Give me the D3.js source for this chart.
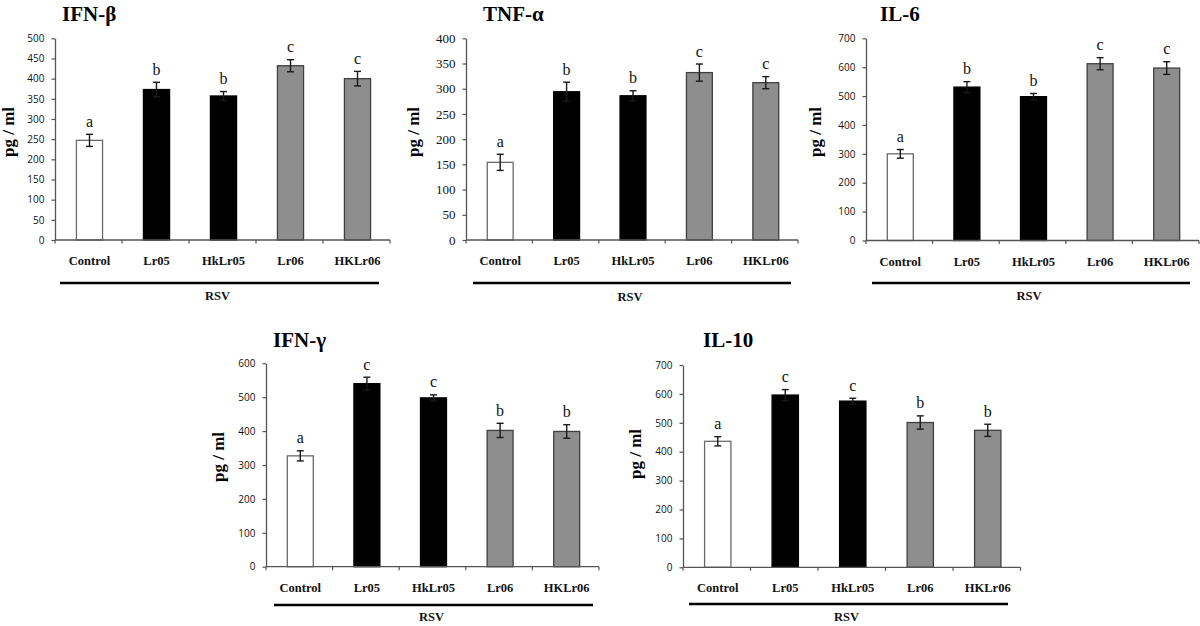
<!DOCTYPE html>
<html>
<head>
<meta charset="utf-8">
<script src="https://cdn.jsdelivr.net/npm/d3@7"></script>
<style>
  html, body { margin: 0; padding: 0; background: #fff; }
  svg { display: block; }
</style>
</head>
<body>
<script>
// ---------------- DATA ----------------
const categories = ["Control", "Lr05", "HkLr05", "Lr06", "HKLr06"];
const groupLabel = "RSV";
const yAxisLabel = "pg / ml";

const ifnbTitle = "IFN-β";
const ifnbValues = [247, 373, 357, 432, 400];
const ifnbErrors = [15, 18, 11, 15, 18];
const ifnbLetters = ["a", "b", "b", "c", "c"];
const ifnbTicks = [0, 50, 100, 150, 200, 250, 300, 350, 400, 450, 500];

const tnfTitle = "TNF-α";
const tnfValues = [154, 294, 286, 332, 312];
const tnfErrors = [16, 19, 10, 17, 12];
const tnfLetters = ["a", "b", "b", "c", "c"];
const tnfTicks = [0, 50, 100, 150, 200, 250, 300, 350, 400];

const il6Title = "IL-6";
const il6Values = [300, 531, 498, 612, 597];
const il6Errors = [15, 19, 11, 21, 22];
const il6Letters = ["a", "b", "b", "c", "c"];
const il6Ticks = [0, 100, 200, 300, 400, 500, 600, 700];

const ifngTitle = "IFN-γ";
const ifngValues = [327, 540, 498, 402, 399];
const ifngErrors = [15, 19, 9, 21, 20];
const ifngLetters = ["a", "c", "c", "b", "b"];
const ifngTicks = [0, 100, 200, 300, 400, 500, 600];

const il10Title = "IL-10";
const il10Values = [436, 596, 575, 501, 474];
const il10Errors = [16, 19, 10, 23, 21];
const il10Letters = ["a", "c", "c", "b", "b"];
const il10Ticks = [0, 100, 200, 300, 400, 500, 600, 700];

// ---------------- STYLE ----------------
const barFill = { "Control": "#ffffff", "Lr05": "#000000", "HkLr05": "#000000", "Lr06": "#8e8e8e", "HKLr06": "#8e8e8e" };
const barStroke = { "Control": "#6a6a6a", "Lr05": "#000000", "HkLr05": "#000000", "Lr06": "#404040", "HKLr06": "#404040" };
const SERIF = "'Liberation Serif', 'Times New Roman', serif";
const SANS = "'Open Sans', 'DejaVu Sans', sans-serif";

// ---------------- LAYOUT ----------------
const panels = [
  { title: ifnbTitle, values: ifnbValues, errors: ifnbErrors, letters: ifnbLetters, ticks: ifnbTicks,
    x0: 55, x1: 390, yTop: 38.3, y0: 240, titleX: 62, titleY: 21, labX: 14, labY: 132,
    tickFont: SANS, tickSize: 10, rsvY: 283, rsvL: 60, rsvR: 379, rsvTextY: 300 },
  { title: tnfTitle, values: tnfValues, errors: tnfErrors, letters: tnfLetters, ticks: tnfTicks,
    x0: 466, x1: 798, yTop: 38.3, y0: 240, titleX: 483, titleY: 21, labX: 419, labY: 132,
    tickFont: SERIF, tickSize: 13, rsvY: 283, rsvL: 473, rsvR: 791, rsvTextY: 301 },
  { title: il6Title, values: il6Values, errors: il6Errors, letters: il6Letters, ticks: il6Ticks,
    x0: 866, x1: 1199, yTop: 38.3, y0: 240.5, titleX: 880, titleY: 21, labX: 821, labY: 132,
    tickFont: SANS, tickSize: 10, rsvY: 283, rsvL: 872, rsvR: 1190, rsvTextY: 300 },
  { title: ifngTitle, values: ifngValues, errors: ifngErrors, letters: ifngLetters, ticks: ifngTicks,
    x0: 266, x1: 599, yTop: 363.3, y0: 566.7, titleX: 273, titleY: 347, labX: 224, labY: 457,
    tickFont: SANS, tickSize: 10, rsvY: 605, rsvL: 274, rsvR: 593, rsvTextY: 621 },
  { title: il10Title, values: il10Values, errors: il10Errors, letters: il10Letters, ticks: il10Ticks,
    x0: 683, x1: 1020.5, yTop: 365, y0: 567.3, titleX: 703, titleY: 347, labX: 641, labY: 454,
    tickFont: SANS, tickSize: 10, rsvY: 604, rsvL: 689, rsvR: 1008, rsvTextY: 621 }
];

const svg = d3.select("body").append("svg")
  .attr("width", 1200).attr("height", 626)
  .style("background", "#fff");

function drawPanel(p) {
  const g = svg.append("g");
  const x = d3.scaleBand().domain(categories).range([p.x0, p.x1])
    .paddingInner(0.61).paddingOuter(0.305);
  const y = d3.scaleLinear().domain([0, d3.max(p.ticks)]).range([p.y0, p.yTop]);
  const rows = categories.map((c, i) => ({ cat: c, v: p.values[i], e: p.errors[i], l: p.letters[i] }));

  // bars
  g.selectAll("rect.bar").data(rows).join("rect")
    .attr("class", "bar")
    .attr("x", d => x(d.cat) + 1)
    .attr("y", d => y(d.v))
    .attr("width", x.bandwidth())
    .attr("height", d => y(0) - y(d.v))
    .attr("fill", d => barFill[d.cat])
    .attr("stroke", d => barStroke[d.cat])
    .attr("stroke-width", 1.3);

  // error bars
  const cap = 3.5;
  const cx = d => x(d.cat) + 1 + x.bandwidth() / 2;
  const eb = g.selectAll("g.err").data(rows).join("g").attr("class", "err")
    .attr("stroke", "#1a1a1a").attr("stroke-width", 1.4);
  eb.append("line")
    .attr("x1", cx).attr("x2", cx)
    .attr("y1", d => y(d.v - d.e)).attr("y2", d => y(d.v + d.e));
  eb.append("line")
    .attr("x1", d => cx(d) - cap).attr("x2", d => cx(d) + cap)
    .attr("y1", d => y(d.v + d.e)).attr("y2", d => y(d.v + d.e));
  eb.append("line")
    .attr("x1", d => cx(d) - cap).attr("x2", d => cx(d) + cap)
    .attr("y1", d => y(d.v - d.e)).attr("y2", d => y(d.v - d.e));

  // significance letters
  g.selectAll("text.sig").data(rows).join("text")
    .attr("class", "sig")
    .attr("x", cx)
    .attr("y", d => y(d.v + d.e) - 7.5)
    .attr("text-anchor", "middle")
    .attr("font-family", SERIF).attr("font-size", 16)
    .attr("fill", "#111")
    .text(d => d.l);

  // y axis
  const ya = g.append("g").attr("transform", `translate(${p.x0},0)`)
    .call(d3.axisLeft(y).tickValues(p.ticks).tickSize(3.5).tickPadding(7).tickSizeOuter(0));
  ya.select(".domain").attr("stroke", "#555").attr("stroke-width", 1.3);
  ya.selectAll(".tick line").attr("stroke", "#555").attr("stroke-width", 1.2);
  ya.selectAll(".tick text").attr("font-family", p.tickFont).attr("font-size", p.tickSize).attr("fill", "#111");

  // x axis with boundary ticks
  const bounds = d3.range(categories.length + 1).map(i => p.x0 + i * x.step());
  g.append("line").attr("x1", p.x0).attr("x2", p.x1).attr("y1", y(0)).attr("y2", y(0))
    .attr("stroke", "#555").attr("stroke-width", 1.3);
  g.selectAll("line.xt").data(bounds).join("line").attr("class", "xt")
    .attr("x1", d => d).attr("x2", d => d).attr("y1", y(0)).attr("y2", y(0) + 3.5)
    .attr("stroke", "#555").attr("stroke-width", 1.2);

  // category labels
  g.selectAll("text.cat").data(rows).join("text").attr("class", "cat")
    .attr("x", cx)
    .attr("y", y(0) + 25)
    .attr("text-anchor", "middle")
    .attr("font-family", SERIF).attr("font-weight", "bold").attr("font-size", 12.5)
    .attr("fill", "#111")
    .text(d => d.cat);

  // RSV bracket line and label
  g.append("line").attr("x1", p.rsvL).attr("x2", p.rsvR).attr("y1", p.rsvY).attr("y2", p.rsvY)
    .attr("stroke", "#000").attr("stroke-width", 2.6);
  g.append("text").attr("x", (p.rsvL + p.rsvR) / 2 - 2).attr("y", p.rsvTextY)
    .attr("text-anchor", "middle")
    .attr("font-family", SERIF).attr("font-weight", "bold").attr("font-size", 12.5)
    .attr("fill", "#111").text(groupLabel);

  // title
  g.append("text").attr("x", p.titleX).attr("y", p.titleY)
    .attr("font-family", SERIF).attr("font-weight", "bold").attr("font-size", 21)
    .attr("fill", "#000").text(p.title);

  // y-axis label
  g.append("text")
    .attr("transform", `translate(${p.labX},${p.labY}) rotate(-90)`)
    .attr("text-anchor", "middle")
    .attr("font-family", SERIF).attr("font-weight", "bold").attr("font-size", 17)
    .attr("fill", "#000").text(yAxisLabel);
}

panels.forEach(drawPanel);
</script>
</body>
</html>
